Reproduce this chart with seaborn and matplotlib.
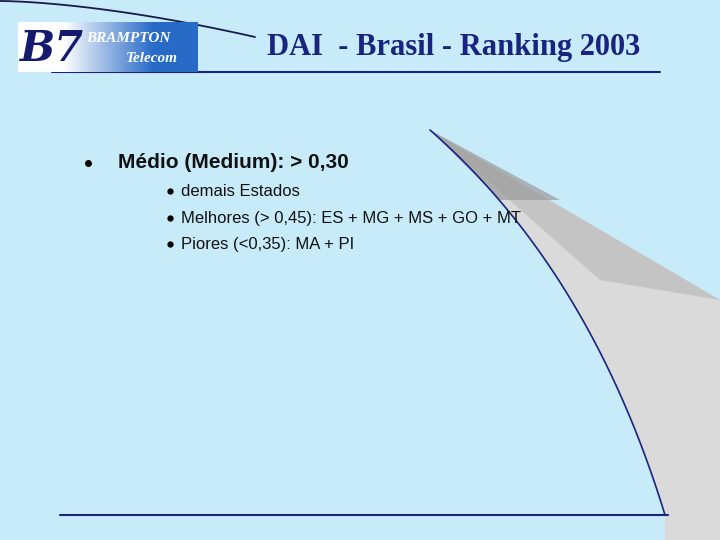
import matplotlib.pyplot as plt
import numpy as np
import seaborn as sns
from matplotlib.patches import Polygon

sns.set_style("white")
plt.rcParams["font.family"] = ["Liberation Sans", "DejaVu Sans"]

title = "DAI  - Brasil - Ranking 2003"
main_bullet = "Médio (Medium): > 0,30"
sub_bullets = [
    "demais Estados",
    "Melhores (> 0,45): ES + MG + MS + GO + MT",
    "Piores (<0,35): MA + PI",
]
sub_y = [191, 218, 244]

BG = "#c8ebf9"
NAVY = "#1a237e"

fig = plt.figure(figsize=(7.2, 5.4), dpi=100)
ax = fig.add_axes([0, 0, 1, 1])
ax.set_xlim(0, 720)
ax.set_ylim(540, 0)
ax.axis("off")
fig.patch.set_facecolor(BG)
ax.set_facecolor(BG)

# grey page-curl wedge on the right (quadratic bezier edge)
t = np.linspace(0, 1, 80)
p0, p1, p2 = np.array([430, 130]), np.array([590, 270]), np.array([665, 515])
curve = ((1 - t) ** 2)[:, None] * p0 + (2 * t * (1 - t))[:, None] * p1 + (t ** 2)[:, None] * p2
cx, cy = curve[:, 0], curve[:, 1]
pts = [(430, 130), (720, 300), (720, 540), (665, 540)] + list(zip(cx[::-1], cy[::-1]))
ax.add_patch(Polygon(pts, closed=True, facecolor="#dadada", edgecolor="none", zorder=1))
tip = [(430, 130), (720, 300), (600, 280)]
ax.add_patch(Polygon(tip, closed=True, facecolor="#c4c4c4", edgecolor="none", zorder=1))
tip2 = [(430, 130), (560, 200), (500, 200)]
ax.add_patch(Polygon(tip2, closed=True, facecolor="#9c9c9c", edgecolor="none", alpha=0.7, zorder=1))
ax.plot(cx, cy, color=NAVY, lw=1.2, zorder=2)

# top curve (disappears behind title)
xs = np.linspace(0, 255, 80)
ax.plot(xs, 1 + 36 * (xs / 255) ** 1.6, color="#1a1a4a", lw=1.3, zorder=2)

# rules
ax.plot([52, 660], [72, 72], color=NAVY, lw=1.5, zorder=3)
ax.plot([60, 668], [515, 515], color=NAVY, lw=1.5, zorder=3)

# logo
grad = np.linspace(0, 1, 200)
img = np.zeros((1, 200, 3))
white = np.array([1, 1, 1])
blue = np.array([0.16, 0.42, 0.78])
for i, g in enumerate(grad):
    w = np.clip((g - 0.25) / 0.5, 0, 1)
    img[0, i] = white * (1 - w) + blue * w
ax.imshow(img, extent=(18, 198, 72, 22), aspect="auto", zorder=4)
ax.text(20, 49, "B7", color="#141a6e", fontsize=30, fontweight="bold", style="italic",
        family="DejaVu Serif", va="center", ha="left", zorder=5)
ax.text(86, 38, "BRAMPTON", color="white", fontsize=11, fontweight="bold", style="italic",
        family="Liberation Serif", va="center", zorder=5)
ax.text(126, 58, "Telecom", color="white", fontsize=11, fontweight="bold", style="italic",
        family="Liberation Serif", va="center", zorder=5)

# title
ax.text(454, 47, title, color="#1a237e", fontsize=22, fontweight="bold",
        family="Liberation Serif", ha="center", va="center", zorder=5)

# bullets
ax.plot(88, 163, "o", color="black", ms=4, zorder=5)
ax.text(118, 163, main_bullet, fontsize=15, fontweight="bold", color="#111111",
        va="center", zorder=5)
for y, s in zip(sub_y, sub_bullets):
    ax.plot(170, y, "o", color="black", ms=3.5, zorder=5)
    ax.text(181, y, s, fontsize=12, color="#111111", va="center", zorder=5)

fig.savefig("out.png", dpi=100, facecolor=BG)
